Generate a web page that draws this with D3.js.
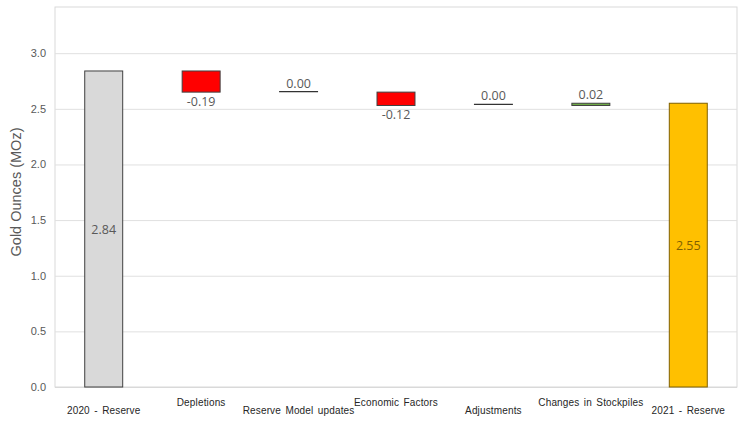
<!DOCTYPE html>
<html><head><meta charset="utf-8">
<script src="https://cdn.jsdelivr.net/npm/d3@7"></script>
<style>body{margin:0;background:#fff}</style>
</head><body>
<svg id="c" width="746" height="427"></svg>
<script>
const categories = ["2020 - Reserve","Depletions","Reserve Model updates","Economic Factors","Adjustments","Changes in Stockpiles","2021 - Reserve"];
const values = [2.84,-0.19,0.00,-0.12,0.00,0.02,2.55];
const kinds = ["total","delta","delta","delta","delta","delta","total"];
const yTicks = [0.0,0.5,1.0,1.5,2.0,2.5,3.0];
const fills = ["#d9d9d9","#ff0000","#404040","#ff0000","#404040","#70ad47","#ffc000"];
const strokes = ["#404040","#404040","#404040","#404040","#404040","#404040","#7f6000"];

const svg = d3.select("#c");
const m = {l:55,t:7,r:9,b:40};
const W = 746-m.l-m.r, H = 427-m.t-m.b;
const g = svg.append("g").attr("transform",`translate(${m.l},${m.t})`);
const x = d3.scaleBand().domain(categories).range([0,W]).paddingInner(0.6).paddingOuter(0.3);
const y = d3.scaleLinear().domain([0,3.415]).range([H,0]);

// frame
g.append("rect").attr("x",0).attr("y",0).attr("width",W).attr("height",H).attr("fill","none").attr("stroke","#d9d9d9");
// gridlines
g.selectAll(".grid").data(yTicks.slice(1)).join("line").attr("x1",0).attr("x2",W)
 .attr("y1",d=>y(d)+0.5).attr("y2",d=>y(d)+0.5).attr("stroke","#e0e0e0");
// y axis
const ya = g.append("g").call(d3.axisLeft(y).tickValues(yTicks).tickFormat(d3.format(".1f")).tickSize(0).tickPadding(9));
ya.select(".domain").remove();
ya.selectAll("text").attr("font-family","Liberation Sans, Arial").attr("font-size",11).attr("fill","#595959");
g.append("line").attr("x1",0).attr("x2",W).attr("y1",H+0.5).attr("y2",H+0.5).attr("stroke","#d9d9d9");

// compute waterfall
let run = 0;
const bars = categories.map((c,i)=>{
  let lo, hi;
  if(kinds[i]==="total"){ lo=0; hi=values[i]; run=values[i]; }
  else { const s=run; run=+(run+values[i]).toFixed(2); lo=Math.min(s,run); hi=Math.max(s,run);
         if(values[i]===0){ if(i===2){lo=hi=2.655;} else {lo=hi=run;} } }
  return {c,i,v:values[i],lo,hi};
});
bars[4].lo=bars[4].hi=2.54;

bars.forEach(b=>{
  const bx=x(b.c), bw=x.bandwidth();
  const top=y(b.hi), h=Math.max(y(b.lo)-y(b.hi),0);
  if(b.v===0){
    g.append("line").attr("x1",bx).attr("x2",bx+bw).attr("y1",top).attr("y2",top).attr("stroke","#333").attr("stroke-width",1.3);
  } else {
    g.append("rect").attr("x",bx+0.5).attr("y",top).attr("width",bw-1).attr("height",h)
     .attr("fill",fills[b.i]).attr("stroke",strokes[b.i]).attr("stroke-width",1);
  }
  let ly, col="#595959";
  if(kinds[b.i]==="total"){ ly=(y(b.lo)+y(b.hi))/2+5; if(b.i===6) col="#7f6000"; }
  else if(b.v<0){ ly=y(b.lo)+14; }
  else { ly=top-4; }
  g.append("text").attr("x",bx+bw/2).attr("y",ly).attr("text-anchor","middle")
   .attr("font-family","Open Sans, Noto Sans, sans-serif").attr("font-size",12.5).attr("fill",col)
   .text(b.v.toFixed(2));
});

// category labels (staggered)
categories.forEach((c,i)=>{
  g.append("text").attr("x",x(c)+x.bandwidth()/2).attr("y",H+(i%2===0?27:19))
   .attr("text-anchor","middle").attr("font-family","Liberation Sans, Arial").attr("font-size",10)
   .attr("letter-spacing",0.15).attr("word-spacing",1.5)
   .attr("fill","#262626").text(c);
});

// y label
svg.append("text").attr("transform","translate(21,192) rotate(-90)").attr("text-anchor","middle")
 .attr("font-family","Liberation Sans, Arial").attr("font-size",14.5).attr("fill","#595959").text("Gold Ounces (MOz)");
</script>
</body></html>
